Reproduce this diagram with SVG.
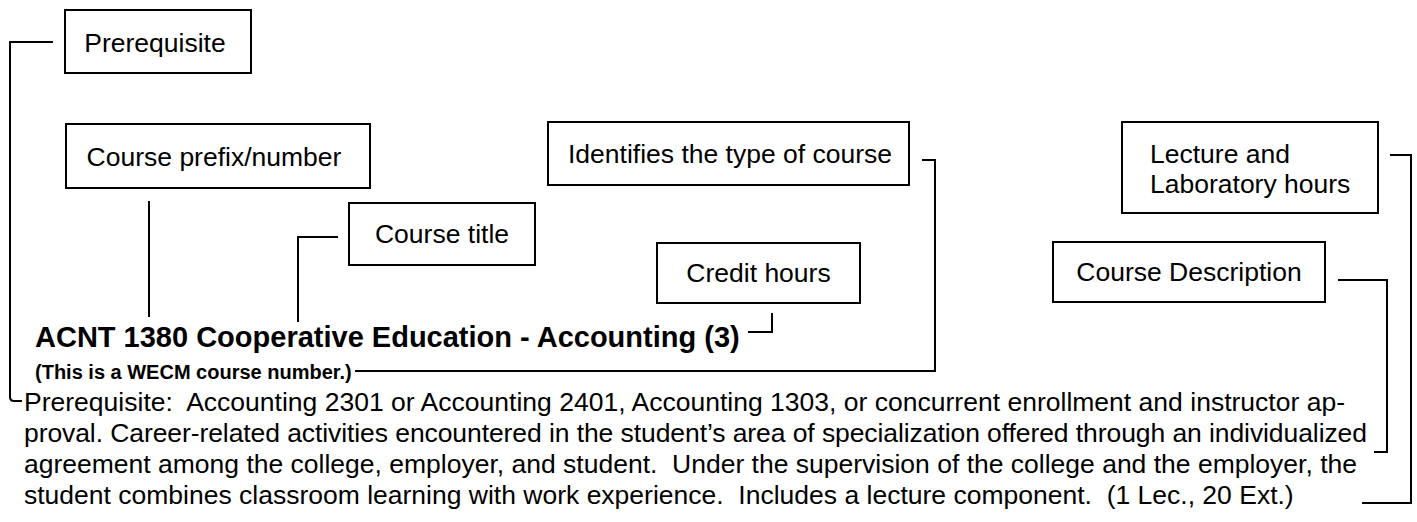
<svg xmlns="http://www.w3.org/2000/svg" width="1417" height="522" viewBox="0 0 1417 522">
<style>
.box{fill:#fff;stroke:#000;stroke-width:2}
.lbl{font-family:"Liberation Sans",Arial,sans-serif;font-size:26.5px;fill:#000}
.c{text-anchor:middle}
.conn{fill:none;stroke:#000;stroke-width:2}
.title{font-family:"Liberation Sans",Arial,sans-serif;font-weight:bold;font-size:29px;fill:#000}
.sub{font-family:"Liberation Sans",Arial,sans-serif;font-weight:bold;font-size:20px;fill:#000}
.body{font-family:"Liberation Sans",Arial,sans-serif;font-size:26.5px;fill:#000}
</style>
<rect width="1417" height="522" fill="#fff"/>
<g id="connectors">
<path class="conn" d="M53 42 H10 V397 Q10 401 14 401 H22"/>
<path class="conn" d="M149 201 V317"/>
<path class="conn" d="M338 237 H298 V322"/>
<path class="conn" d="M922 160 H935 V371 H355"/>
<path class="conn" d="M772 313 V332 H748"/>
<path class="conn" d="M1390 155 H1411 V503 H1362"/>
<path class="conn" d="M1338 280 H1387 V452 H1374"/>
</g>
<g id="prerequisite">
<rect class="box" x="65" y="10" width="186" height="63"/>
<text class="lbl c" x="155" y="52">Prerequisite</text>
</g>
<g id="course-prefix">
<rect class="box" x="66" y="124" width="304" height="64"/>
<text class="lbl c" x="214" y="166">Course prefix/number</text>
</g>
<g id="course-title">
<rect class="box" x="349" y="203" width="186" height="62"/>
<text class="lbl c" x="442" y="243">Course title</text>
</g>
<g id="course-type">
<rect class="box" x="548" y="122" width="361" height="63"/>
<text class="lbl c" x="730" y="163">Identifies the type of course</text>
</g>
<g id="credit-hours">
<rect class="box" x="657" y="243" width="203" height="60"/>
<text class="lbl c" x="758.5" y="282">Credit hours</text>
</g>
<g id="lecture-lab">
<rect class="box" x="1122" y="122" width="256" height="91"/>
<text class="lbl" x="1150" y="163">Lecture and</text>
<text class="lbl" x="1150" y="193">Laboratory hours</text>
</g>
<g id="course-description">
<rect class="box" x="1053" y="242" width="272" height="60"/>
<text class="lbl c" x="1189" y="281">Course Description</text>
</g>
<g id="course-entry">
<text class="title" x="35" y="347">ACNT 1380 Cooperative Education - Accounting (3)</text>
<text class="sub" x="35" y="379">(This is a WECM course number.)</text>
<text class="body" x="24" y="411" textLength="1321" lengthAdjust="spacing" xml:space="preserve">Prerequisite:  Accounting 2301 or Accounting 2401, Accounting 1303, or concurrent enrollment and instructor ap-</text>
<text class="body" x="24" y="442" textLength="1343" lengthAdjust="spacing">proval. Career-related activities encountered in the student’s area of specialization offered through an individualized</text>
<text class="body" x="24" y="473" textLength="1333" lengthAdjust="spacing" xml:space="preserve">agreement among the college, employer, and student.  Under the supervision of the college and the employer, the</text>
<text class="body" x="24" y="504" xml:space="preserve">student combines classroom learning with work experience.  Includes a lecture component.  (1 Lec., 20 Ext.)</text>
</g>
</svg>
